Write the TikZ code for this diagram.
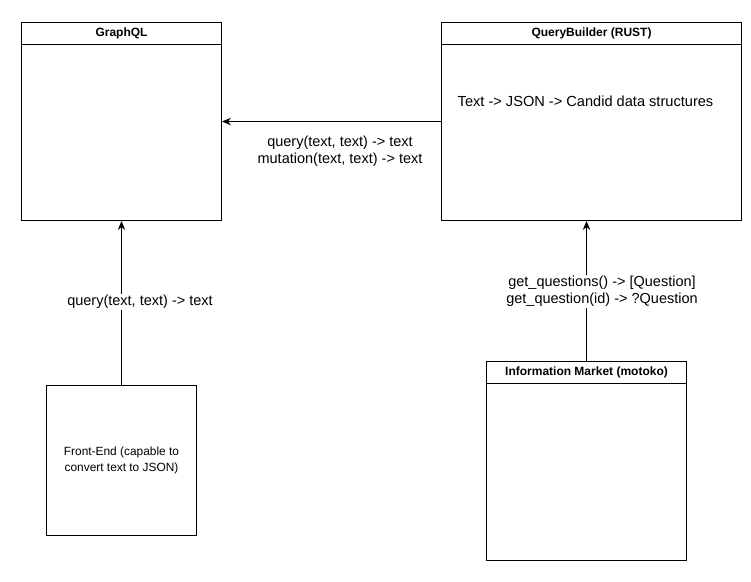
\documentclass[tikz,border=0pt]{standalone}
\usepackage{fontspec}
\setmainfont{Liberation Sans}
\usetikzlibrary{arrows.meta}

\begin{document}
\begin{tikzpicture}[x=1pt, y=-1pt,
  box/.style={draw, line width=1pt, inner sep=0pt, anchor=north west},
  head/.style={draw, line width=1pt, anchor=north, minimum height=21.5pt,
    inner sep=0pt, font=\fontsize{12}{13}\selectfont\bfseries},
  lbl/.style={fill=white, inner sep=1pt, align=center,
    font=\fontsize{14.5}{17}\selectfont},
  conn/.style={line width=1pt, -{Stealth[length=9pt, width=7.5pt, inset=3pt]}}]

  \useasboundingbox (0,0) rectangle (751,581);

  % boxes
  \node[box, minimum width=200pt, minimum height=198pt] (gql) at (21,22) {};
  \node[head, minimum width=200pt] (gqlhead) at (gql.north) {GraphQL};

  \node[box, minimum width=300pt, minimum height=198pt] (qb) at (441,22) {};
  \node[head, minimum width=300pt] (qbhead) at (qb.north) {QueryBuilder (RUST)};
  \node[font=\fontsize{14.6}{17}\selectfont] (qbtext) at (585.5,101)
    {Text -> JSON -> Candid data structures};

  \node[box, minimum width=150pt, minimum height=150pt] (fe) at (46,385) {};
  \node[align=center, font=\fontsize{11.9}{15.5}\selectfont] (fetext) at (fe.center)
    {Front-End (capable to\\convert text to JSON)};

  \node[box, minimum width=200pt, minimum height=199pt] (im) at (486,361) {};
  \node[head, minimum width=200pt] (imhead) at (im.north)
    {Information Market (motoko)};

  % connectors
  \draw[conn] (qb.west) -- (gql.east); %% QB->GraphQL
  \node[lbl, fill=none] (qblbl) at (340,151.5)
    {query(text, text) -> text\\mutation(text, text) -> text};

  \draw[conn] (fe.north) -- (gql.south); %% FE->GraphQL
  \node[lbl] (felbl) at (140,302) {query(text, text) -> text};

  \draw[conn] (im.north) -- (im.north |- qb.south); %% IM->QB
  \node[lbl] (imlbl) at (602,291.5)
    {get\_questions() -> [Question]\\get\_question(id) -> ?Question};

\end{tikzpicture}
\end{document}
